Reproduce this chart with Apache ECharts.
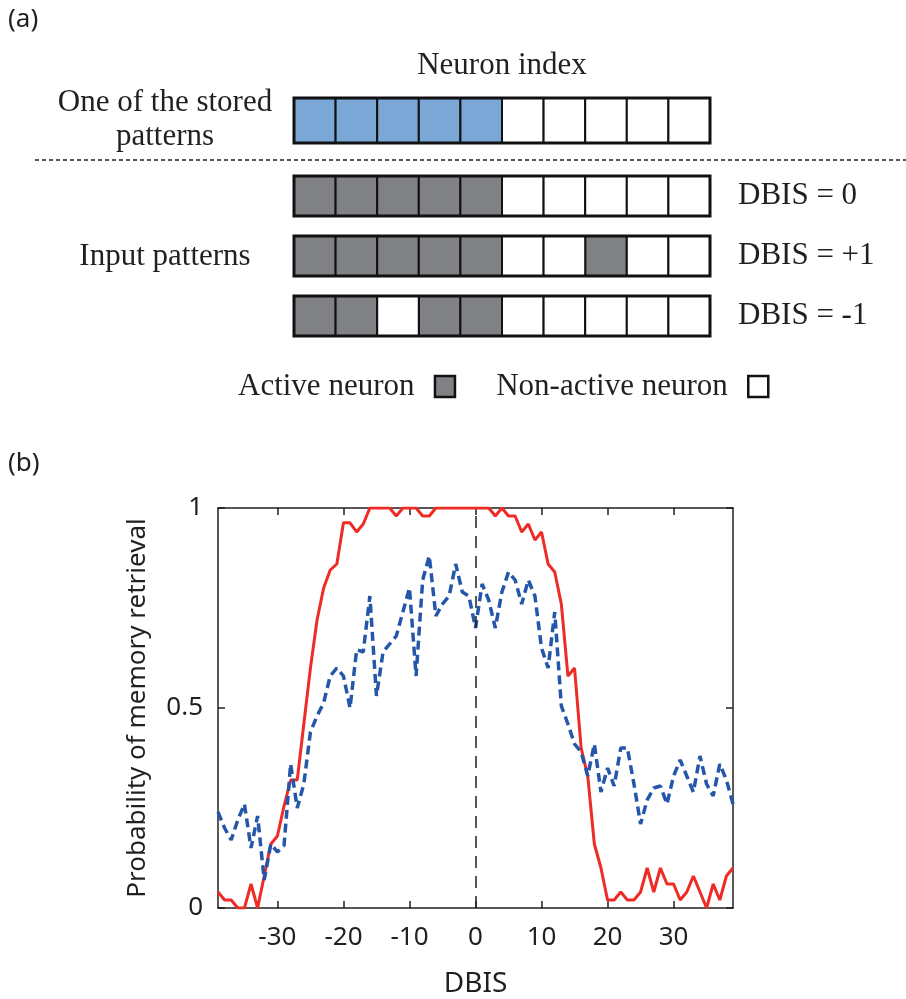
<!DOCTYPE html>
<html>
<head>
<meta charset="utf-8">
<script src="https://cdn.jsdelivr.net/npm/echarts@6/dist/echarts.min.js"></script>
<style>
  html, body { margin: 0; padding: 0; background: #fff; }
  #chart { width: 906px; height: 999px; }
</style>
</head>
<body>
<div id="chart"></div>
<script>
// (a) patterns
const neurons = ['1', '2', '3', '4', '5', '6', '7', '8', '9', '10'];
const storedPattern = [1, 1, 1, 1, 1, 0, 0, 0, 0, 0];
const inputLabels = ['DBIS = 0', 'DBIS = +1', 'DBIS = -1'];
const inputPatterns = [
  [1, 1, 1, 1, 1, 0, 0, 0, 0, 0],
  [1, 1, 1, 1, 1, 0, 0, 1, 0, 0],
  [1, 1, 0, 1, 1, 0, 0, 0, 0, 0]
];

// (b) retrieval probability vs DBIS
const dbis = [
  -39, -38, -37, -36, -35, -34, -33, -32, -31, -30,
  -29, -28, -27, -26, -25, -24, -23, -22, -21, -20,
  -19, -18, -17, -16, -15, -14, -13, -12, -11, -10,
  -9, -8, -7, -6, -5, -4, -3, -2, -1, 0,
  1, 2, 3, 4, 5, 6, 7, 8, 9, 10,
  11, 12, 13, 14, 15, 16, 17, 18, 19, 20,
  21, 22, 23, 24, 25, 26, 27, 28, 29, 30,
  31, 32, 33, 34, 35, 36, 37, 38, 39
];
const solidProb = [
  0.04, 0.02, 0.02, 0, 0, 0.06, 0, 0.08, 0.16, 0.18,
  0.255, 0.32, 0.32, 0.46, 0.60, 0.72, 0.80, 0.845, 0.86, 0.963,
  0.963, 0.94, 0.96, 1, 1, 1, 1, 0.98, 1, 1,
  1, 0.98, 0.98, 1, 1, 1, 1, 1, 1, 1,
  1, 1, 0.98, 1, 0.98, 0.98, 0.94, 0.96, 0.92, 0.94,
  0.86, 0.84, 0.76, 0.58, 0.60, 0.40, 0.33, 0.16, 0.10, 0.02,
  0.02, 0.04, 0.02, 0.02, 0.04, 0.10, 0.04, 0.10, 0.06, 0.06,
  0.02, 0.04, 0.08, 0.04, 0, 0.06, 0.02, 0.08, 0.10
];
const dashedProb = [
  0.24, 0.20, 0.17, 0.22, 0.26, 0.15, 0.23, 0.07, 0.16, 0.14,
  0.156, 0.36, 0.25, 0.31, 0.44, 0.48, 0.513, 0.58, 0.60, 0.58,
  0.50, 0.646, 0.64, 0.78, 0.53, 0.64, 0.66, 0.68, 0.74, 0.80,
  0.58, 0.82, 0.88, 0.73, 0.76, 0.78, 0.86, 0.79, 0.78, 0.70,
  0.81, 0.77, 0.70, 0.79, 0.84, 0.82, 0.76, 0.82, 0.78, 0.65,
  0.60, 0.74, 0.505, 0.46, 0.41, 0.39, 0.33, 0.41, 0.29, 0.35,
  0.305, 0.40, 0.40, 0.31, 0.21, 0.27, 0.30, 0.305, 0.26, 0.33,
  0.37, 0.33, 0.29, 0.38, 0.31, 0.28, 0.36, 0.32, 0.26
];
const xTicks = [-30, -20, -10, 0, 10, 20, 30];

const ink = '#231f20';
const serif = 'Liberation Serif';
const sans = 'Noto Sans';

const chart = echarts.init(document.getElementById('chart'), null, { renderer: 'canvas' });

// cells of one pattern row, picked by state (1 active / 0 not)
function cellsOf(pattern, row, state) {
  const out = [];
  pattern.forEach((v, i) => { if (v === state) out.push([i, row]); });
  return out;
}

function cellRenderer(frac) {
  return function (params, api) {
    const c = api.coord([api.value(0), api.value(1)]);
    const s = api.size([1, 1]);
    const h = s[1] * frac;
    return {
      type: 'rect',
      shape: { x: c[0] - s[0] / 2, y: c[1] - h / 2, width: s[0], height: h },
      style: { fill: api.visual('color'), stroke: '#111', lineWidth: 2 }
    };
  };
}

// thick frame round a whole row
function outlineRenderer(frac) {
  return function (params, api) {
    const c = api.coord([0, api.value(1)]);
    const s = api.size([1, 1]);
    const h = s[1] * frac;
    return {
      type: 'rect',
      shape: { x: c[0] - s[0] / 2, y: c[1] - h / 2, width: s[0] * neurons.length, height: h },
      style: { fill: 'none', stroke: '#111', lineWidth: 3 }
    };
  };
}

const inputOn = [], inputOff = [];
inputPatterns.forEach((p, r) => {
  inputOn.push(...cellsOf(p, r, 1));
  inputOff.push(...cellsOf(p, r, 0));
});

const axisLine = { show: true, onZero: false, lineStyle: { color: ink, width: 1.5 } };
const tickIn = { show: true, inside: true, length: 7, lineStyle: { color: ink, width: 1.5 } };

const option = {
  animation: false,
  backgroundColor: '#fff',
  grid: [
    { left: 294, top: 98, width: 416, height: 45 },
    { left: 294, top: 166, width: 416, height: 180 },
    { left: 218, top: 508, width: 515, height: 401 }
  ],
  legend: {
    data: ['Active neuron', 'Non-active neuron'],
    left: 233,
    top: 366,
    align: 'right',
    icon: 'rect',
    itemWidth: 20,
    itemHeight: 21,
    itemGap: 40,
    itemStyle: { borderColor: '#111', borderWidth: 2.5 },
    textStyle: { fontFamily: serif, fontSize: 31, color: ink },
    formatter: name => name + '  '
  },
  xAxis: [
    {
      gridIndex: 0, type: 'category', data: neurons, position: 'top',
      name: 'Neuron index', nameLocation: 'middle', nameGap: 17,
      nameTextStyle: { fontFamily: serif, fontSize: 31, color: ink },
      axisLine: { show: false }, axisTick: { show: false }, axisLabel: { show: false },
      splitLine: { show: false }
    },
    { gridIndex: 1, type: 'category', data: neurons, show: false },
    {
      gridIndex: 2, type: 'value', min: -39, max: 39, position: 'bottom',
      name: 'DBIS', nameLocation: 'middle', nameGap: 62,
      nameTextStyle: { fontFamily: sans, fontSize: 28, color: ink },
      axisLine: axisLine,
      axisTick: Object.assign({ customValues: xTicks }, tickIn),
      axisLabel: { customValues: xTicks, margin: 17, fontFamily: sans, fontSize: 26, color: ink },
      splitLine: { show: false }
    },
    {
      gridIndex: 2, type: 'value', min: -39, max: 39, position: 'top',
      axisLine: axisLine,
      axisTick: Object.assign({ customValues: xTicks }, tickIn),
      axisLabel: { show: false },
      splitLine: { show: false }
    }
  ],
  yAxis: [
    { gridIndex: 0, type: 'category', data: ['stored'], show: false },
    {
      gridIndex: 1, type: 'category', data: inputLabels, inverse: true, position: 'right',
      axisLine: { show: false }, axisTick: { show: false },
      axisLabel: { margin: 28, fontFamily: serif, fontSize: 31, color: ink },
      splitLine: { show: false }
    },
    {
      gridIndex: 2, type: 'value', min: 0, max: 1, interval: 0.5,
      name: 'Probability of memory retrieval', nameLocation: 'middle', nameGap: 67,
      nameTextStyle: { fontFamily: sans, fontSize: 26, color: ink },
      axisLine: axisLine, axisTick: tickIn,
      axisLabel: { margin: 15, fontFamily: sans, fontSize: 26, color: ink },
      splitLine: { show: false }
    },
    {
      gridIndex: 2, type: 'value', min: 0, max: 1, interval: 0.5, position: 'right',
      axisLine: axisLine, axisTick: tickIn,
      axisLabel: { show: false }, splitLine: { show: false }
    }
  ],
  graphic: [
    { type: 'text', left: 8, top: 7, style: { text: '(a)', fontFamily: sans, fontSize: 26, fill: ink } },
    { type: 'text', left: 8, top: 451, style: { text: '(b)', fontFamily: sans, fontSize: 26, fill: ink } },
    {
      type: 'text', x: 165, y: 86,
      style: {
        text: 'One of the stored\npatterns', fontFamily: serif, fontSize: 31, lineHeight: 34,
        align: 'center', verticalAlign: 'top', fill: ink
      }
    },
    {
      type: 'text', x: 165, y: 257,
      style: { text: 'Input patterns', fontFamily: serif, fontSize: 31, align: 'center', verticalAlign: 'middle', fill: ink }
    },
    {
      type: 'line', shape: { x1: 35, y1: 160, x2: 906, y2: 160 },
      style: { stroke: ink, lineWidth: 1.5, lineDash: [4, 3] }
    }
  ],
  series: [
    {
      name: 'Stored active', type: 'custom', xAxisIndex: 0, yAxisIndex: 0,
      renderItem: cellRenderer(1), itemStyle: { color: '#7ba7d7' },
      data: cellsOf(storedPattern, 0, 1)
    },
    {
      name: 'Non-active neuron', type: 'custom', xAxisIndex: 0, yAxisIndex: 0,
      renderItem: cellRenderer(1), itemStyle: { color: '#ffffff' },
      data: cellsOf(storedPattern, 0, 0)
    },
    {
      name: 'Stored frame', type: 'custom', xAxisIndex: 0, yAxisIndex: 0, z: 3,
      renderItem: outlineRenderer(1), data: [[0, 0]]
    },
    {
      name: 'Active neuron', type: 'custom', xAxisIndex: 1, yAxisIndex: 1,
      renderItem: cellRenderer(2 / 3), itemStyle: { color: '#808184' },
      data: inputOn
    },
    {
      name: 'Non-active neuron', type: 'custom', xAxisIndex: 1, yAxisIndex: 1,
      renderItem: cellRenderer(2 / 3), itemStyle: { color: '#ffffff' },
      data: inputOff
    },
    {
      name: 'Input frame', type: 'custom', xAxisIndex: 1, yAxisIndex: 1, z: 3,
      renderItem: outlineRenderer(2 / 3), data: inputLabels.map((l, r) => [0, r])
    },
    {
      name: 'Solid', type: 'line', xAxisIndex: 2, yAxisIndex: 2,
      data: dbis.map((d, i) => [d, solidProb[i]]),
      symbol: 'none',
      lineStyle: { color: '#ee2b24', width: 3 },
      markLine: {
        silent: true, symbol: 'none',
        label: { show: false },
        lineStyle: { color: ink, type: [12, 8], width: 1.5 },
        data: [{ xAxis: 0 }]
      }
    },
    {
      name: 'Dashed', type: 'line', xAxisIndex: 2, yAxisIndex: 2,
      data: dbis.map((d, i) => [d, dashedProb[i]]),
      symbol: 'none',
      lineStyle: { color: '#2457a9', width: 3.5, type: [9, 5] }
    }
  ]
};

chart.setOption(option);
</script>
</body>
</html>
